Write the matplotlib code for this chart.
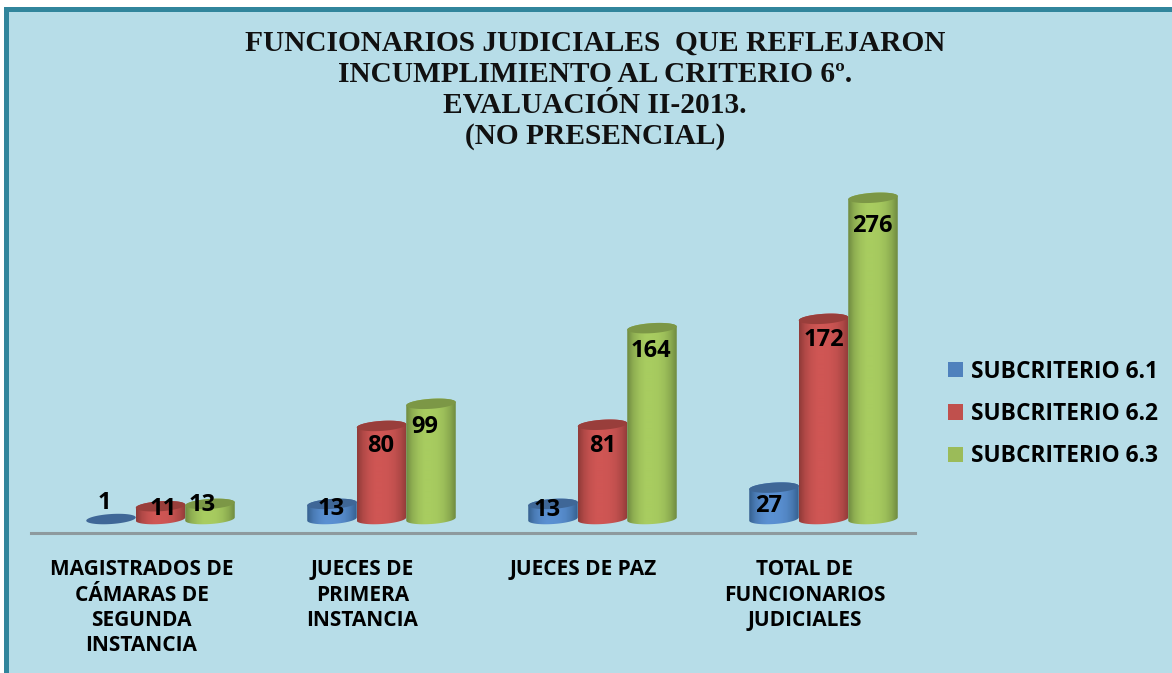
import numpy as np
import matplotlib
matplotlib.use('Agg')
from matplotlib import pyplot as plt
from matplotlib.patches import Patch, PathPatch, Polygon, Rectangle
from matplotlib.path import Path
from matplotlib.colors import LinearSegmentedColormap

W, H = 1172, 673

titulo = ('FUNCIONARIOS JUDICIALES  QUE REFLEJARON\n'
          'INCUMPLIMIENTO AL CRITERIO 6º.\n'
          'EVALUACIÓN II-2013.\n'
          '(NO PRESENCIAL)')
categorias = ['MAGISTRADOS DE\nCÁMARAS DE\nSEGUNDA\nINSTANCIA',
              'JUECES DE\nPRIMERA\nINSTANCIA',
              'JUECES DE PAZ',
              'TOTAL DE\nFUNCIONARIOS\nJUDICIALES']
series = ['SUBCRITERIO 6.1', 'SUBCRITERIO 6.2', 'SUBCRITERIO 6.3']
sub_61 = [1, 13, 13, 27]
sub_62 = [11, 80, 81, 172]
sub_63 = [13, 99, 164, 276]
valores = [sub_61, sub_62, sub_63]

# colores: leyenda, borde oscuro, centro claro, tapa
colores = ['#4F81BD', '#C0504D', '#9BBB59']
oscuros = ['#35608F', '#8F3A38', '#6F8A40']
claros = ['#5A90D2', '#CF5654', '#A8CC60']
tapas = ['#3F6797', '#993E3B', '#7C9746']

# desplazamiento de las etiquetas respecto a la tapa, en pixeles
nudge = [[(-7, 15), (-1, -5), (-6, -6), (-5, -18)],
         [(3, -3), (-1, -20), (0, -21), (0, -21)],
         [(-8, -1), (-6, -23), (-1, -23), (-1, -28)]]

BG = '#B7DDE8'
BORDE = '#31859C'
FONT = ['Open Sans', 'DejaVu Sans']

fig = plt.figure(figsize=(W / 100, H / 100), dpi=100, facecolor='white')

# fondo y marco
fig.add_artist(Rectangle((4 / W, 0), (W - 4) / W, (H - 7) / H, transform=fig.transFigure,
                         facecolor=BORDE, edgecolor='none', zorder=-2))
fig.add_artist(Rectangle((9 / W, 0), (W - 9) / W, (H - 12) / H, transform=fig.transFigure,
                         facecolor=BG, edgecolor='none', zorder=-1))

# ejes: 31-915 px en x, linea base en y=533
ax = fig.add_axes([31 / W, (H - 533) / H, 884 / W, 348 / H])
ax.patch.set_alpha(0)
ylim = (-12, 287)
px_x = 884 / 4   # pixeles por categoria
px_y = 348 / (ylim[1] - ylim[0])
ancho = 49.5 / px_x
paso = 49.5 / px_x
dx3d = 19 / px_x
semi = 5.0 / px_y
incl = 1.6 / px_y   # la elipse sube un poco a la derecha


def elipse(xc, yc, t):
    return (xc + ancho / 2 * np.cos(t),
            yc + semi * np.sin(t) + incl * np.cos(t))


gradiente = np.array([0.0, 0.55, 0.85, 1.0, 1.0, 0.95, 0.8, 0.5, 0.0])
g_x = np.linspace(0, 1, 200)
g_img = np.interp(g_x, np.linspace(0, 1, gradiente.size), gradiente)[None, :]

for j, vals in enumerate(valores):
    cmap = LinearSegmentedColormap.from_list('c', [oscuros[j], claros[j]])
    for i, v in enumerate(vals):
        xc = i + dx3d + (j - 1) * paso
        if v <= 1:
            t = np.linspace(0, 2 * np.pi, 80)
            ax.add_patch(Polygon(np.column_stack(elipse(xc, 0, t)), closed=True,
                                 facecolor=tapas[j], edgecolor='none', zorder=3 + j))
        else:
            t_low = np.linspace(np.pi, 2 * np.pi, 50)
            t_up = np.linspace(0, np.pi, 50)
            bx, by = elipse(xc, 0, t_low)
            ux, uy = elipse(xc, v, t_up)
            cuerpo = np.column_stack([np.r_[bx, ux], np.r_[by, uy]])
            path = Path(np.vstack([cuerpo, cuerpo[0]]), closed=True)
            clip = PathPatch(path, transform=ax.transData, facecolor='none', edgecolor='none')
            ax.add_patch(clip)
            im = ax.imshow(g_img, cmap=cmap, vmin=0, vmax=1, aspect='auto', zorder=3 + j,
                           extent=(xc - ancho / 2, xc + ancho / 2, -semi * 2, v + semi * 2),
                           interpolation='bilinear')
            im.set_clip_path(clip)
            t = np.linspace(0, 2 * np.pi, 80)
            ax.add_patch(Polygon(np.column_stack(elipse(xc, v, t)), closed=True,
                                 facecolor=tapas[j], edgecolor='none', zorder=3 + j))
        ax.annotate(str(v), xy=(xc, v), xytext=nudge[j][i], textcoords='offset pixels',
                    ha='center', va='center', fontsize=17, fontweight='bold',
                    family=FONT, color='black', zorder=10, annotation_clip=False)

ax.set_xlim(-0.5, 3.5)
ax.set_ylim(*ylim)
ax.set_xticks(range(4))
ax.set_xticklabels(categorias, fontsize=15, fontweight='bold', family=FONT,
                   linespacing=1.27, va='top', ha='center')
ax.tick_params(axis='x', length=0, pad=19)
ax.set_yticks([])
for s in ['top', 'left', 'right']:
    ax.spines[s].set_visible(False)
ax.spines['bottom'].set_color('#8E9A9E')
ax.spines['bottom'].set_linewidth(2.2)

fig.text(595 / W, 1 - 30 / H, titulo, ha='center', va='top', family=['Liberation Serif'],
         fontweight='bold', fontsize=21.2, linespacing=1.18, color='#111111')

handles = [Patch(facecolor=c, edgecolor='none') for c in colores]
fig.legend(handles, series, loc='center left', bbox_to_anchor=(937 / W, 1 - 414 / H),
           frameon=False, prop={'family': FONT, 'weight': 'bold', 'size': 16.4},
           handlelength=0.66, handleheight=0.66, handletextpad=0.32, labelspacing=0.8,
           borderpad=0, borderaxespad=0.5)

fig.savefig('out.png', dpi=100)
